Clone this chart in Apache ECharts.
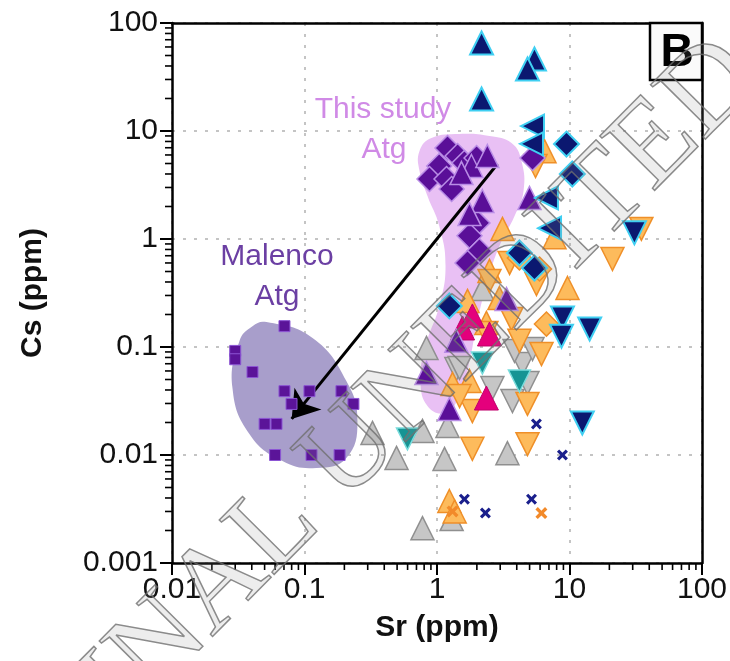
<!DOCTYPE html>
<html>
<head>
<meta charset="utf-8">
<script src="https://cdn.jsdelivr.net/npm/echarts@6/dist/echarts.min.js"></script>
<style>
  html, body { margin: 0; padding: 0; background: #fff; }
  #chart { width: 730px; height: 661px; }
</style>
</head>
<body>
<div id="chart"></div>
<script>
// axis ticks
const xTicks = [0.01, 0.1, 1, 10, 100];
const xTickLabels = ['0.01', '0.1', '1', '10', '100'];
const yTicks = [0.001, 0.01, 0.1, 1, 10, 100];
const yTickLabels = ['0.001', '0.01', '0.1', '1', '10', '100'];
const minorSteps = [2, 3, 4, 5, 6, 7, 8, 9];

// Malenco antigorite (squares)
const malencoSq = [[0.0706, 0.156], [0.030, 0.092], [0.030, 0.077], [0.0405, 0.0587], [0.0706, 0.039],
  [0.109, 0.039], [0.19, 0.039], [0.234, 0.0297], [0.0798, 0.0297], [0.050, 0.0194], [0.0615, 0.0194],
  [0.060, 0.01], [0.113, 0.01], [0.184, 0.01]];
// this study antigorite
const atgDiamonds = [[1.20, 6.96], [1.43, 5.87], [1.04, 4.74], [0.878, 3.59], [1.18, 3.59], [1.29, 2.90],
  [1.61, 5.06], [1.99, 5.62], [5.26, 5.62], [2.02, 1.41], [1.76, 1.07], [2.09, 0.774], [1.70, 0.600]];
const atgTriUp = [[1.82, 4.74], [2.40, 5.87], [1.53, 4.08], [4.99, 2.40], [2.20, 2.25], [1.76, 1.70],
  [3.35, 0.278], [1.40, 0.114], [0.833, 0.0574], [1.24, 0.0267]];
// navy
const navyTriUp = [[2.17, 65.3], [5.44, 46.4], [4.82, 37.5], [2.17, 19.8]];
const navyTriLeft = [[5.26, 11.1], [5.17, 7.6], [6.70, 2.40], [7.07, 1.26]];
const navyDiamonds = [[9.49, 7.57], [10.5, 4.0], [4.19, 0.742], [5.44, 0.539], [1.24, 0.240]];
const navyTriDown = [[30.9, 1.14], [8.85, 0.186], [8.7, 0.126], [14.2, 0.147], [12.5, 0.0198]];
const navyCross = [[5.63, 0.0194], [8.85, 0.01], [1.61, 0.0039], [2.32, 0.0029], [5.17, 0.0039]];
// orange
const orangeTriUp = [[6.48, 6.50], [3.12, 1.24], [7.71, 1.04], [9.66, 0.352], [2.96, 0.284], [1.70, 0.267],
  [2.36, 0.167], [1.31, 0.0454], [1.76, 0.0484], [1.24, 0.00375], [1.36, 0.0030], [2.49, 0.506]];
const orangeTriDown = [[5.54, 4.74], [21.1, 0.653], [34.9, 1.24], [3.53, 0.600], [2.49, 0.409], [5.63, 0.383],
  [3.65, 0.182], [6.15, 0.086], [4.19, 0.114], [1.85, 0.0255], [4.82, 0.0297], [1.85, 0.0114],
  [4.82, 0.0126], [2.36, 0.135], [1.48, 0.0352]];
const orangeDiamonds = [[6.70, 0.163], [4.19, 0.667], [5.94, 0.528]];
const orangeCross = [[1.31, 0.0030], [6.14, 0.0029]];
// grey
const greyTriUp = [[0.326, 0.016], [0.833, 0.098], [0.495, 0.0094], [0.777, 0.0021], [0.777, 0.0167],
  [1.14, 0.0092], [1.20, 0.0186], [3.40, 0.0104], [2.20, 0.344], [1.29, 0.00255]];
const greyTriDown = [[1.40, 0.0626], [2.62, 0.0417], [3.71, 0.0316], [4.82, 0.0464], [4.42, 0.0696],
  [3.85, 0.092], [5.26, 0.0958], [1.48, 0.064]];
// teal and magenta
const tealTriDown = [[0.599, 0.0141], [2.20, 0.0711], [4.19, 0.0484]];
const magentaTriUp = [[1.56, 0.150], [1.85, 0.194], [2.49, 0.132], [2.36, 0.0337]];

// field outlines (Sr, Cs)
const malencoField = [[0.0517, 0.170], [0.115, 0.121], [0.207, 0.0484], [0.251, 0.0206], [0.207, 0.00938],
  [0.123, 0.00758], [0.0682, 0.0088], [0.0385, 0.0156], [0.0286, 0.0417], [0.0323, 0.1137], [0.0405, 0.156]];
const studyField = [[0.738, 6.53], [0.909, 8.61], [1.48, 9.38], [2.49, 8.99], [3.65, 7.74], [4.34, 5.27],
  [4.50, 2.78], [3.85, 1.63], [2.96, 0.861], [2.41, 0.408], [2.02, 0.174], [1.76, 0.0742], [1.48, 0.0352],
  [1.14, 0.0245], [0.848, 0.0284], [0.751, 0.0484], [0.819, 0.102], [1.04, 0.240], [1.16, 0.562],
  [1.04, 1.32], [0.848, 2.50], [0.738, 4.26]];
const arrowStart = [2.86, 4.95];
const arrowEnd = [0.08, 0.0216];

const chart = echarts.init(document.getElementById('chart'));

function tickLabel(ticks, labels) {
  return function (v) {
    for (let i = 0; i < ticks.length; i++) {
      if (Math.abs(Math.log10(v) - Math.log10(ticks[i])) < 1e-6) return labels[i];
    }
    return '';
  };
}

const xMin = xTicks[0], yMin = yTicks[0];
const minorX = [], minorY = [];
xTicks.slice(0, -1).forEach(d => minorSteps.forEach(s => minorX.push([d * s, yMin])));
yTicks.slice(0, -1).forEach(d => minorSteps.forEach(s => minorY.push([xMin, d * s])));

function field(data, color, z) {
  return {
    type: 'custom',
    z: z,
    silent: true,
    data: [0],
    renderItem: function (params, api) {
      const pts = data.map(p => api.coord(p));
      return {
        type: 'polygon',
        shape: { points: pts, smooth: 0.45 },
        style: { fill: color, stroke: 'none' }
      };
    }
  };
}

function minorTicks(data, horizontal) {
  return {
    type: 'custom',
    z: 10,
    silent: true,
    data: data,
    renderItem: function (params, api) {
      const p = api.coord([api.value(0), api.value(1)]);
      const shape = horizontal
        ? { x1: p[0], y1: p[1], x2: p[0], y2: p[1] + 7 }
        : { x1: p[0] - 7, y1: p[1], x2: p[0], y2: p[1] };
      return { type: 'line', shape: shape, style: { stroke: '#000', lineWidth: 1.6 } };
    }
  };
}

function pts(data, symbol, size, rotate, fill, border, bw, z) {
  return {
    type: 'scatter',
    data: data,
    symbol: symbol,
    symbolSize: size,
    symbolRotate: rotate,
    z: z,
    itemStyle: { color: fill, borderColor: border, borderWidth: bw, opacity: 1 }
  };
}

const crossPath = 'path://M0,2L2,0L5,3L8,0L10,2L7,5L10,8L8,10L5,7L2,10L0,8L3,5Z';
const NAVY = '#0b1870', NAVY_B = '#3fcff2';
const PURP = '#5a0f98', PURP_B = '#b98de6';
const ORG = '#fdbb5c', ORG_B = '#ef8f28';
const GRY = '#c6c6c6', GRY_B = '#8f8f8f';

const txtFont = '30px "Liberation Sans", Arial, sans-serif';
const frameLine = { show: true, lineStyle: { color: '#000', width: 2.5 } };

const option = {
  animation: false,
  backgroundColor: '#fff',
  grid: { left: 172, right: 28, top: 23, bottom: 98 },
  xAxis: [{
    type: 'log', logBase: 10, min: 0.01, max: 100,
    name: 'Sr (ppm)', nameLocation: 'middle', nameGap: 50,
    nameTextStyle: { fontSize: 30, fontWeight: 'bold', color: '#111', fontFamily: 'Liberation Sans' },
    axisLine: frameLine,
    axisTick: { show: true, inside: false, length: 12, lineStyle: { color: '#000', width: 2 } },
    axisLabel: { formatter: tickLabel(xTicks, xTickLabels), fontSize: 30, color: '#111', margin: 12,
      fontFamily: 'Liberation Sans' },
    splitLine: { show: true, lineStyle: { type: [3, 8], color: '#c4c4c4', width: 2 } }
  }, {
    type: 'log', logBase: 10, min: 0.01, max: 100, position: 'top',
    axisLine: frameLine, axisTick: { show: false }, axisLabel: { show: false }, splitLine: { show: false }
  }],
  yAxis: [{
    type: 'log', logBase: 10, min: 0.001, max: 100,
    name: 'Cs (ppm)', nameLocation: 'middle', nameGap: 124, nameRotate: 90,
    nameTextStyle: { fontSize: 30, fontWeight: 'bold', color: '#111', fontFamily: 'Liberation Sans' },
    axisLine: frameLine,
    axisTick: { show: true, inside: false, length: 12, lineStyle: { color: '#000', width: 2 } },
    axisLabel: { formatter: tickLabel(yTicks, yTickLabels), fontSize: 30, color: '#111', margin: 14,
      fontFamily: 'Liberation Sans' },
    splitLine: { show: true, lineStyle: { type: [3, 8], color: '#c4c4c4', width: 2 } }
  }, {
    type: 'log', logBase: 10, min: 0.001, max: 100, position: 'right',
    axisLine: frameLine, axisTick: { show: false }, axisLabel: { show: false }, splitLine: { show: false }
  }],
  series: [
    field(malencoField, '#a89ecb', 1),
    field(studyField, '#e9c0f4', 1),
    minorTicks(minorX, true),
    minorTicks(minorY, false),
    pts(greyTriUp, 'triangle', 23, 0, GRY, GRY_B, 1.5, 2),
    pts(greyTriDown, 'triangle', 23, 180, GRY, GRY_B, 1.5, 2),
    pts(orangeTriUp, 'triangle', 23, 0, ORG, ORG_B, 1.5, 3),
    pts(orangeTriDown, 'triangle', 23, 180, ORG, ORG_B, 1.5, 3),
    pts(orangeDiamonds, 'diamond', 24, 0, ORG, ORG_B, 1.5, 3),
    pts(tealTriDown, 'triangle', 22, 180, '#169494', '#78dcdc', 1.5, 4),
    pts(magentaTriUp, 'triangle', 24, 0, '#e4007c', '#c0006a', 1, 4),
    pts(atgDiamonds, 'diamond', 25, 0, PURP, PURP_B, 1.5, 5),
    pts(atgTriUp, 'triangle', 23, 0, PURP, PURP_B, 1.5, 5),
    pts(malencoSq, 'rect', 11, 0, '#5b1499', '#8c55d4', 1, 5),
    pts(navyTriUp, 'triangle', 23, 0, NAVY, NAVY_B, 2, 6),
    pts(navyTriLeft, 'triangle', 23, 90, NAVY, NAVY_B, 2, 6),
    pts(navyDiamonds, 'diamond', 25, 0, NAVY, NAVY_B, 2, 6),
    pts(navyTriDown, 'triangle', 23, 180, NAVY, NAVY_B, 2, 6),
    pts(navyCross, crossPath, 11, 0, '#1a1f8c', '#1a1f8c', 0, 7),
    pts(orangeCross, crossPath, 12, 0, '#f28a2a', '#f28a2a', 0, 7),
    {
      type: 'scatter', data: [], z: 8,
      markLine: {
        silent: true, animation: false,
        symbol: ['none', 'arrow'], symbolSize: 26,
        label: { show: false },
        lineStyle: { color: '#000', width: 3, type: 'solid' },
        emphasis: { disabled: true },
        data: [[{ coord: arrowStart }, { coord: arrowEnd }]]
      }
    }
  ],
  graphic: [
    { type: 'text', x: 383, y: 110, z: 20,
      style: { text: 'This study', font: txtFont, fill: '#d08ae6', align: 'center', verticalAlign: 'middle',
        textAlign: 'center', textVerticalAlign: 'middle' } },
    { type: 'text', x: 384, y: 150, z: 20,
      style: { text: 'Atg', font: txtFont, fill: '#d08ae6', align: 'center', verticalAlign: 'middle',
        textAlign: 'center', textVerticalAlign: 'middle' } },
    { type: 'text', x: 277, y: 257, z: 20,
      style: { text: 'Malenco', font: txtFont, fill: '#6b3fa3', align: 'center', verticalAlign: 'middle',
        textAlign: 'center', textVerticalAlign: 'middle' } },
    { type: 'text', x: 277, y: 297, z: 20,
      style: { text: 'Atg', font: txtFont, fill: '#6b3fa3', align: 'center', verticalAlign: 'middle',
        textAlign: 'center', textVerticalAlign: 'middle' } },
    { type: 'rect', z: 20, shape: { x: 650, y: 23, width: 52, height: 57 },
      style: { fill: '#fafafa', stroke: '#000', lineWidth: 2.5 } },
    { type: 'text', x: 677, y: 53, z: 21,
      style: { text: 'B', font: 'bold 46px "Liberation Sans", Arial, sans-serif', fill: '#000',
        align: 'center', verticalAlign: 'middle', textAlign: 'center', textVerticalAlign: 'middle' } },
    // watermark
    { type: 'text', x: 320, y: 484, rotation: 0.79, z: 30, silent: true,
      style: { text: 'ORIGINAL UNEDITED', font: '118px "Liberation Serif", "Times New Roman", serif',
        fill: 'rgba(140,140,140,0.16)', stroke: 'rgba(110,110,110,0.8)', lineWidth: 1.5,
        align: 'center', verticalAlign: 'middle', textAlign: 'center', textVerticalAlign: 'middle' } }
  ]
};

chart.setOption(option);
</script>
</body>
</html>
